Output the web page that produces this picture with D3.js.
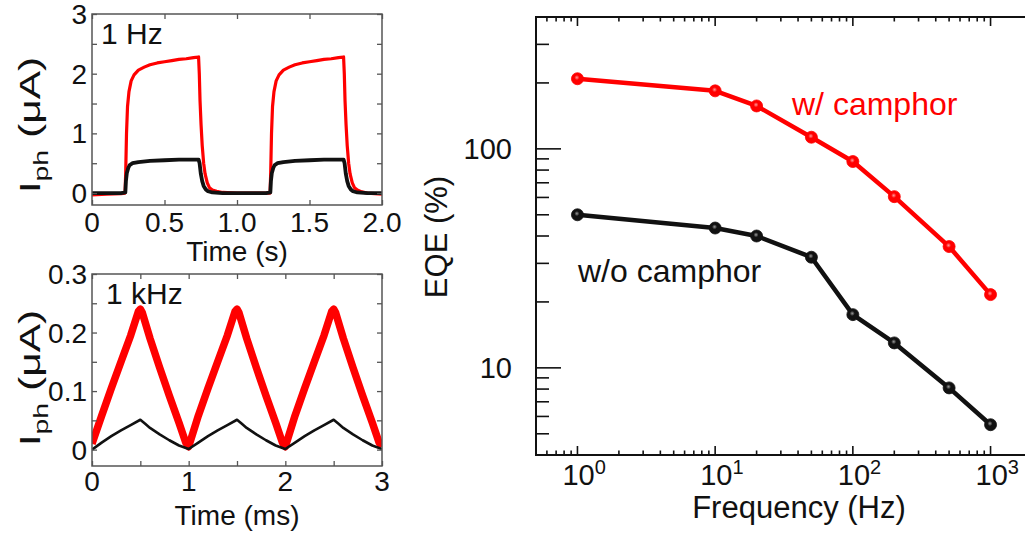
<!DOCTYPE html>
<html>
<head>
<meta charset="utf-8">
<script src="https://cdn.jsdelivr.net/npm/d3@7"></script>
<style>
  html, body { margin: 0; padding: 0; background: #fff; }
  svg { display: block; font-family: "Liberation Sans", Arial, sans-serif; }
</style>
</head>
<body>
<svg id="fig" width="1025" height="538"></svg>
<script>
// ---- 1 Hz photocurrent transients (time in s, current in µA) ----
const hzWith = [
  [0.00,-0.03],[0.10,-0.02],[0.20,-0.01],[0.228,0.00],[0.232,0.30],[0.238,1.00],[0.245,1.45],
  [0.255,1.70],[0.27,1.88],[0.29,1.98],[0.32,2.06],[0.36,2.11],[0.40,2.15],[0.45,2.18],
  [0.50,2.20],[0.55,2.22],[0.60,2.24],[0.65,2.25],[0.70,2.27],[0.735,2.28],[0.740,2.00],
  [0.745,1.55],[0.752,1.15],[0.760,0.80],[0.770,0.50],[0.780,0.32],[0.795,0.17],[0.81,0.09],
  [0.83,0.05],[0.86,0.03],[0.90,0.01],[1.00,0.00],[1.20,0.00],[1.228,0.00],[1.232,0.30],
  [1.238,1.00],[1.245,1.45],[1.255,1.70],[1.27,1.88],[1.29,1.98],[1.32,2.06],[1.36,2.11],
  [1.40,2.15],[1.45,2.18],[1.50,2.20],[1.55,2.22],[1.60,2.24],[1.65,2.25],[1.70,2.27],
  [1.735,2.28],[1.740,2.00],[1.745,1.55],[1.752,1.15],[1.760,0.80],[1.770,0.50],[1.780,0.32],
  [1.795,0.17],[1.81,0.09],[1.83,0.05],[1.86,0.02],[1.90,0.00],[1.95,-0.01],[2.00,-0.02]
];
const hzWithout = [
  [0.00,0.00],[0.20,0.00],[0.230,0.01],[0.234,0.20],[0.240,0.33],[0.250,0.42],[0.26,0.47],
  [0.28,0.50],[0.32,0.52],[0.40,0.54],[0.50,0.55],[0.60,0.56],[0.70,0.56],[0.735,0.56],
  [0.742,0.50],[0.750,0.33],[0.760,0.20],[0.770,0.12],[0.785,0.06],[0.80,0.03],[0.83,0.01],
  [0.90,0.00],[1.20,0.00],[1.230,0.01],[1.234,0.20],[1.240,0.33],[1.250,0.42],[1.26,0.47],
  [1.28,0.50],[1.32,0.52],[1.40,0.54],[1.50,0.55],[1.60,0.56],[1.70,0.56],[1.735,0.56],
  [1.742,0.50],[1.750,0.33],[1.760,0.20],[1.770,0.12],[1.785,0.06],[1.80,0.03],[1.83,0.01],
  [1.90,0.00],[2.00,0.00]
];

// ---- 1 kHz photocurrent transients (time in ms, current in µA) ----
const khzWith = [
  [0.00,0.010],[0.10,0.058],[0.20,0.105],[0.30,0.150],[0.40,0.195],[0.48,0.236],[0.50,0.240],
  [0.52,0.234],[0.60,0.190],[0.70,0.140],[0.80,0.092],[0.90,0.046],[0.97,0.012],[1.00,0.005],
  [1.10,0.058],[1.20,0.105],[1.30,0.150],[1.40,0.195],[1.48,0.236],[1.50,0.240],[1.52,0.234],
  [1.60,0.190],[1.70,0.140],[1.80,0.092],[1.90,0.046],[1.97,0.012],[2.00,0.005],[2.10,0.058],
  [2.20,0.105],[2.30,0.150],[2.40,0.195],[2.48,0.236],[2.50,0.240],[2.52,0.234],[2.60,0.190],
  [2.70,0.140],[2.80,0.092],[2.90,0.046],[2.97,0.012],[3.00,0.005]
];
const khzWithout = [
  [0.00,0.000],[0.10,0.012],[0.20,0.023],[0.30,0.033],[0.40,0.042],[0.50,0.051],[0.55,0.044],
  [0.60,0.037],[0.70,0.026],[0.80,0.016],[0.90,0.007],[1.00,0.001],[1.10,0.012],[1.20,0.023],
  [1.30,0.033],[1.40,0.042],[1.50,0.051],[1.55,0.044],[1.60,0.037],[1.70,0.026],[1.80,0.016],
  [1.90,0.007],[2.00,0.001],[2.10,0.012],[2.20,0.023],[2.30,0.033],[2.40,0.042],[2.50,0.051],
  [2.55,0.044],[2.60,0.037],[2.70,0.026],[2.80,0.016],[2.90,0.007],[3.00,0.001]
];

// ---- EQE versus modulation frequency ----
const frequency = [1, 10, 20, 50, 100, 200, 500, 1000];
const eqeWith = [209, 184, 157, 113, 87.5, 60.5, 35.8, 21.6];
const eqeWithout = [50, 43.5, 40, 32, 17.5, 13.0, 8.1, 5.5];

// ---- tick labels ----
const hzXTicks = [0, 0.5, 1.0, 1.5, 2.0];
const hzXLabels = ["0", "0.5", "1.0", "1.5", "2.0"];
const hzYTicks = [0, 1, 2, 3];
const hzYMinor = [0.5, 1.5, 2.5];
const khzXTicks = [0, 1, 2, 3];
const khzXMinor = [0.5, 1.5, 2.5];
const khzYTicks = [0, 0.1, 0.2, 0.3];
const khzYLabels = ["0", "0.1", "0.2", "0.3"];
const khzYMinor = [0.05, 0.15, 0.25];
const eqeXMajor = [1, 10, 100, 1000];
const eqeYMajor = [10, 100];
const eqeYLabels = ["10", "100"];

const svg = d3.select("#fig");
const RED = "#ff0000";
const FONT_SMALL = 28;

// marker shading
const defs = svg.append("defs");
function ballGradient(id, hi, base) {
  const g = defs.append("radialGradient").attr("id", id)
    .attr("cx", "45%").attr("cy", "40%").attr("r", "60%");
  g.append("stop").attr("offset", "0%").attr("stop-color", hi);
  g.append("stop").attr("offset", "35%").attr("stop-color", base);
  g.append("stop").attr("offset", "100%").attr("stop-color", base);
}
ballGradient("ballRed", "#ff9a9a", RED);
ballGradient("ballBlack", "#9a9a9a", "#111");

// ---------- small transient panels ----------
function transientPanel(opt) {
  const x = d3.scaleLinear().domain(opt.xDomain).range([92, 382]);
  const y = d3.scaleLinear().domain(opt.yDomain).range([opt.bottom, opt.top]);
  const g = svg.append("g");
  const frameColor = "#555";

  const clip = "clip" + opt.id;
  defs.append("clipPath").attr("id", clip).append("rect")
    .attr("x", 92).attr("y", opt.top).attr("width", 290).attr("height", opt.bottom - opt.top);

  const line = d3.line().x(d => x(d[0])).y(d => y(d[1]));
  const plot = g.append("g").attr("clip-path", `url(#${clip})`);
  plot.append("path").datum(opt.red).attr("d", line)
    .attr("fill", "none").attr("stroke", RED).attr("stroke-width", opt.redWidth)
    .attr("stroke-linejoin", "round");
  plot.append("path").datum(opt.black).attr("d", line)
    .attr("fill", "none").attr("stroke", "#111").attr("stroke-width", opt.blackWidth)
    .attr("stroke-linejoin", "round");

  // ticks on four sides (inward)
  const bottomAxis = d3.axisBottom(x).tickValues(opt.xMajor.concat(opt.xMinor || []))
    .tickSize(-5).tickFormat("");
  const topAxis = d3.axisTop(x).tickValues(opt.xMajor.concat(opt.xMinor || []))
    .tickSize(-5).tickFormat("");
  const leftAxis = d3.axisLeft(y).tickValues(opt.yMajor.concat(opt.yMinor)).tickSize(-5).tickFormat("");
  const rightAxis = d3.axisRight(y).tickValues(opt.yMajor.concat(opt.yMinor)).tickSize(-5).tickFormat("");
  [[bottomAxis, `translate(0,${opt.bottom})`], [topAxis, `translate(0,${opt.top})`],
   [leftAxis, "translate(92,0)"], [rightAxis, "translate(382,0)"]].forEach(([ax, tr]) => {
    const a = g.append("g").attr("transform", tr).call(ax);
    a.select(".domain").remove();
    a.selectAll("line").attr("stroke", frameColor).attr("stroke-width", 1.3);
  });

  g.append("rect").attr("x", 92).attr("y", opt.top).attr("width", 290)
    .attr("height", opt.bottom - opt.top).attr("fill", "none")
    .attr("stroke", frameColor).attr("stroke-width", 1.5);

  // tick labels
  g.selectAll(".xl").data(opt.xMajor).join("text")
    .attr("x", d => x(d)).attr("y", opt.bottom + opt.xLabelDy)
    .attr("text-anchor", "middle").attr("font-size", FONT_SMALL).attr("fill", "#111")
    .text((d, i) => opt.xLabels[i]);
  g.selectAll(".yl").data(opt.yMajor).join("text")
    .attr("x", 87).attr("y", d => y(d) + 10)
    .attr("text-anchor", "end").attr("font-size", FONT_SMALL).attr("fill", "#111")
    .text((d, i) => opt.yLabels[i]);

  // axis titles
  g.append("text").attr("x", 237).attr("y", opt.xTitleY)
    .attr("text-anchor", "middle").attr("font-size", FONT_SMALL).attr("fill", "#111")
    .text(opt.xTitle);
  const yt = g.append("text")
    .attr("transform", `translate(${opt.yTitleX},${opt.yTitleY}) rotate(-90) scale(1.42,1)`)
    .attr("text-anchor", "middle").attr("font-size", 30).attr("fill", "#111");
  yt.append("tspan").text("I");
  yt.append("tspan").attr("font-size", 20).attr("dy", 8).text("ph");
  yt.append("tspan").attr("dy", -8).text(" (μA)");

  // frequency tag
  g.append("text").attr("x", opt.tagX).attr("y", opt.tagY)
    .attr("font-size", 30).attr("fill", "#111").text(opt.tag);
}

transientPanel({
  id: "hz", xDomain: [0, 2], yDomain: [-0.2, 3], top: 14, bottom: 205,
  red: hzWith, black: hzWithout, redWidth: 3.2, blackWidth: 3.8,
  xMajor: hzXTicks, xMinor: [], xLabels: hzXLabels, xLabelDy: 27,
  yMajor: hzYTicks, yMinor: hzYMinor, yLabels: hzYTicks.map(String),
  xTitle: "Time (s)", xTitleY: 261, yTitleX: 40, yTitleY: 125,
  tag: "1 Hz", tagX: 101, tagY: 44
});
transientPanel({
  id: "khz", xDomain: [0, 3], yDomain: [-0.028, 0.3], top: 274, bottom: 466,
  red: khzWith, black: khzWithout, redWidth: 7.5, blackWidth: 2.6,
  xMajor: khzXTicks, xMinor: khzXMinor, xLabels: khzXTicks.map(String), xLabelDy: 25,
  yMajor: khzYTicks, yMinor: khzYMinor, yLabels: khzYLabels,
  xTitle: "Time (ms)", xTitleY: 525, yTitleX: 40, yTitleY: 378,
  tag: "1 kHz", tagX: 106, tagY: 304
});

// ---------- EQE panel ----------
(function () {
  const left = 536, right = 1032, top = 17, bottom = 455;
  const x = d3.scaleLog().domain([0.5, 2000]).range([left, right]);
  const y = d3.scaleLog().domain([4, 400]).range([bottom, top]);
  const g = svg.append("g");

  const xAll = x.ticks().filter(v => v >= 0.5 && v <= 2000);
  const yAll = y.ticks().filter(v => v >= 4 && v <= 400);
  const isMajorX = v => eqeXMajor.includes(v);
  const isMajorY = v => eqeYMajor.includes(v);

  // x ticks (bottom and top, inward)
  g.selectAll(".xb").data(xAll).join("line")
    .attr("x1", d => x(d)).attr("x2", d => x(d))
    .attr("y1", bottom).attr("y2", d => bottom - (isMajorX(d) ? 9 : 4.5))
    .attr("stroke", "#111").attr("stroke-width", 1.6);
  g.selectAll(".xt").data(xAll).join("line")
    .attr("x1", d => x(d)).attr("x2", d => x(d))
    .attr("y1", top).attr("y2", d => top + (isMajorX(d) ? 9 : 4.5))
    .attr("stroke", "#111").attr("stroke-width", 1.6);
  // y ticks (left, inward)
  g.selectAll(".yt").data(yAll).join("line")
    .attr("x1", left).attr("x2", d => left + (isMajorY(d) ? 25 : 13))
    .attr("y1", d => y(d)).attr("y2", d => y(d))
    .attr("stroke", "#111").attr("stroke-width", 1.6);

  // frame
  g.append("path")
    .attr("d", `M${right},${top}H${left}V${bottom}H${right}`)
    .attr("fill", "none").attr("stroke", "#111").attr("stroke-width", 2);

  // tick labels
  const xl = g.selectAll(".xl").data(eqeXMajor).join("text")
    .attr("x", d => x(d) - 15).attr("y", bottom + 30)
    .attr("font-size", 29).attr("fill", "#111");
  xl.append("tspan").text("10");
  xl.append("tspan").attr("font-size", 20).attr("dy", -11)
    .text(d => String(Math.round(Math.log10(d))));

  g.selectAll(".yl").data(eqeYMajor).join("text")
    .attr("x", 512).attr("y", d => y(d) + 10)
    .attr("text-anchor", "end").attr("font-size", 29).attr("fill", "#111")
    .text((d, i) => eqeYLabels[i]);

  // axis titles
  g.append("text").attr("x", 799).attr("y", 518).attr("text-anchor", "middle")
    .attr("font-size", 31).attr("fill", "#111").text("Frequency (Hz)");
  g.append("text").attr("transform", "translate(447,237) rotate(-90)")
    .attr("text-anchor", "middle").attr("font-size", 31).attr("fill", "#111").text("EQE (%)");

  // series
  const series = [
    { values: eqeWith, color: RED, ball: "url(#ballRed)" },
    { values: eqeWithout, color: "#111", ball: "url(#ballBlack)" }
  ];
  const line = d3.line().x(d => x(d[0])).y(d => y(d[1]));
  series.forEach(s => {
    const pts = frequency.map((f, i) => [f, s.values[i]]);
    g.append("path").datum(pts).attr("d", line).attr("fill", "none")
      .attr("stroke", s.color).attr("stroke-width", 4.5).attr("stroke-linejoin", "round");
    g.selectAll(null).data(pts).join("circle")
      .attr("cx", d => x(d[0])).attr("cy", d => y(d[1])).attr("r", 6)
      .attr("fill", s.ball).attr("stroke", s.color).attr("stroke-width", 0.8);
  });

  // series labels
  g.append("text").attr("x", 792).attr("y", 115).attr("font-size", 32)
    .attr("fill", RED).text("w/ camphor");
  g.append("text").attr("x", 578).attr("y", 282).attr("font-size", 32)
    .attr("fill", "#111").text("w/o camphor");
})();
</script>
</body>
</html>
